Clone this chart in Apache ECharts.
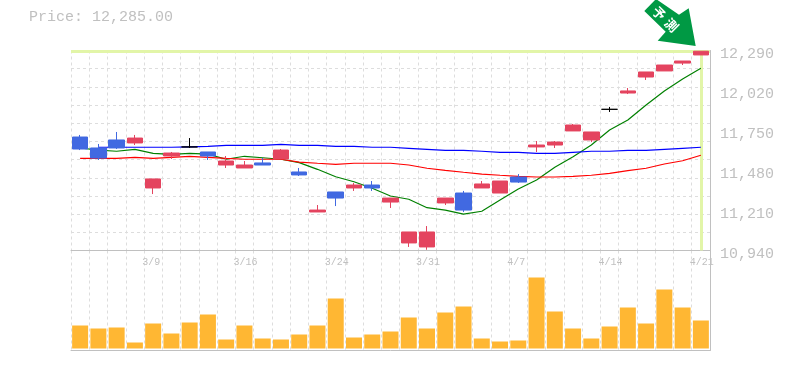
<!DOCTYPE html>
<html>
<head>
<meta charset="utf-8">
<style>html,body{margin:0;padding:0;background:#fff}#c{width:785px;height:370px}</style>
<script src="https://cdn.jsdelivr.net/npm/echarts@6/dist/echarts.min.js"></script>
</head>
<body>
<div id="c"></div>
<script>
const categories = ['3/3','3/4','3/5','3/6','3/9','3/10','3/11','3/12','3/13','3/16','3/17','3/18','3/19','3/23','3/24','3/25','3/26','3/27','3/30','3/31','4/1','4/2','4/3','4/6','4/7','4/8','4/9','4/10','4/13','4/14','4/15','4/16','4/17','4/20','4/21'];
const opens  = [11706,11632,11686,11666,11362,11578,11639,11605,11517,11497,11531,11558,11470,11200,11335,11362,11382,11267,10991,10964,11261,11328,11362,11328,11436,11639,11652,11747,11686,11893,12003,12111,12152,12205,12260];
const closes = [11625,11564,11632,11699,11423,11598,11639,11578,11544,11517,11517,11618,11450,11213,11294,11382,11362,11294,11065,11065,11294,11213,11389,11409,11402,11652,11672,11787,11740,11893,12017,12145,12192,12219,12285];
const lows   = [11618,11551,11625,11652,11321,11558,11632,11551,11497,11497,11517,11558,11443,11200,11240,11342,11342,11227,10964,10945,11247,11200,11362,11328,11396,11605,11632,11747,11672,11875,11996,12091,12152,12192,12260];
const highs  = [11720,11659,11740,11720,11423,11605,11699,11605,11578,11544,11564,11625,11497,11247,11335,11396,11409,11294,11065,11105,11294,11342,11409,11409,11456,11679,11679,11794,11740,11909,12037,12145,12192,12219,12285];
const maShort = [11632,11618,11610,11623,11596,11589,11596,11591,11556,11576,11566,11556,11533,11488,11438,11404,11360,11308,11286,11229,11213,11186,11205,11281,11355,11416,11502,11573,11652,11753,11821,11922,12017,12098,12170];
const maMid = [null,11637,11637,11637,11637,11637,11640,11643,11650,11650,11650,11657,11650,11650,11643,11643,11637,11637,11630,11623,11616,11616,11610,11603,11603,11596,11596,11603,11610,11610,11616,11616,11623,11630,11637];
const maLong = [11562,11562,11562,11569,11562,11569,11576,11569,11562,11556,11556,11556,11537,11529,11522,11529,11529,11529,11517,11495,11481,11468,11456,11448,11441,11436,11436,11441,11448,11461,11479,11495,11524,11546,11583];
const volumes = [23,20,21,6,25,15,26,34,9,23,10,9,14,23,50,11,14,17,31,20,36,42,10,7,8,71,37,20,10,22,41,25,59,41,28];
const priceTicks = [10940,11210,11480,11750,12020,12290];
const labelledDates = ['3/9','3/16','3/24','3/31','4/7','4/14','4/21'];
const priceTitle = 'Price: 12,285.00';
const badgeChars = ['予','測'];

const MONO = '"Liberation Mono","DejaVu Sans Mono",monospace';
const GREY = '#c0c0c0', DASH = '#dddddd', BAND = '#e2f5a8';
const RED = '#e4445f', BLUE = '#4169e1';
const lastIdx = categories.length - 1;
const candleData = categories.map((_, i) => [opens[i], closes[i], lows[i], highs[i]]);
const line = (name, data, color, extra) => Object.assign({
  name, type: 'line', data, xAxisIndex: 0, yAxisIndex: 0, symbol: 'none', silent: true,
  z: 2, animation: false, lineStyle: {color, width: 1.2}, connectNulls: false
}, extra || {});
const vSplit = {show: true, interval: 0, lineStyle: {color: DASH, type: [3, 3], width: 1}};
const badgeGlyph = (ch, x, y) => ({type: 'text', z: 21, silent: true, x, y, rotation: -Math.PI / 4,
  style: {text: ch, fill: '#fff', align: 'center', verticalAlign: 'middle', font: 'bold 13px "Noto Sans CJK JP"'}});

const chart = echarts.init(document.getElementById('c'), null, {renderer: 'canvas'});
chart.setOption({
  animation: false,
  backgroundColor: '#fff',
  title: {text: priceTitle, left: 24, top: 5, textStyle: {fontFamily: MONO, fontSize: 15, fontWeight: 'normal', color: GREY}},
  grid: [
    {left: 71, right: 75, top: 50.5, height: 200},
    {left: 71, right: 75, top: 250.5, height: 100}
  ],
  xAxis: [
    {type: 'category', gridIndex: 0, data: categories, boundaryGap: true,
     axisLine: {onZero: false, lineStyle: {color: GREY, width: 1}}, axisTick: {show: false},
     splitLine: vSplit,
     axisLabel: {
       interval: (i, v) => labelledDates.includes(v), margin: 7, hideOverlap: false,
       formatter: v => '{a|' + v + '}',
       rich: {a: {width: 22, align: 'left', fontFamily: MONO, fontSize: 10, color: GREY}}
     }},
    {type: 'category', gridIndex: 1, data: categories, boundaryGap: true,
     axisLine: {onZero: false, lineStyle: {color: GREY, width: 1}}, axisTick: {show: false},
     splitLine: vSplit, axisLabel: {show: false}}
  ],
  yAxis: [
    {type: 'value', gridIndex: 0, position: 'right', min: priceTicks[0], max: priceTicks[priceTicks.length - 1],
     axisLine: {show: true, lineStyle: {color: GREY, width: 1}}, axisTick: {show: false},
     splitLine: {show: false},
     axisLabel: {customValues: priceTicks, margin: 10, padding: [0, 0, 0, 0], verticalAlign: 'top', lineHeight: 8, fontFamily: MONO, fontSize: 15, color: GREY,
       formatter: v => v.toLocaleString('en-US')}},
    {type: 'value', gridIndex: 0, position: 'left', min: 0, max: 11, interval: 1,
     axisLine: {show: false}, axisTick: {show: false}, axisLabel: {show: false},
     splitLine: {show: true, lineStyle: {color: DASH, type: [3, 3], width: 1}}},
    {type: 'value', gridIndex: 1, position: 'right', min: -2, max: 98,
     axisLine: {show: true, lineStyle: {color: GREY, width: 1}}, axisTick: {show: false},
     axisLabel: {show: false}, splitLine: {show: false}}
  ],
  series: [
    line('MA short', maShort, '#008000', {
      markLine: {silent: true, symbol: 'none', z: 1, animation: false,
        label: {show: false}, lineStyle: {color: BAND, width: 3, type: 'solid'},
        data: [{yAxis: closes[lastIdx]}, {xAxis: categories[lastIdx]}]}
    }),
    line('MA mid', maMid, '#0000ff'),
    line('MA long', maLong, '#ff0000'),
    {name: 'Price', type: 'candlestick', xAxisIndex: 0, yAxisIndex: 0, data: candleData, barWidth: 16, z: 3, silent: true,
     itemStyle: {color: RED, color0: BLUE, borderColor: RED, borderColor0: BLUE, borderColorDoji: '#000', borderWidth: 1}},
    {name: 'Volume', type: 'bar', xAxisIndex: 1, yAxisIndex: 2, data: volumes, barWidth: 16, silent: true,
     itemStyle: {color: '#ffb733'}}
  ],
  graphic: [
    {type: 'polygon', z: 20, silent: true,
     shape: {points: [[644.3,11],[656,-1],[679,14.7],[688.7,8.3],[695.7,46],[657.7,40.7],[665.7,31.7]]},
     style: {fill: '#009944'}},
    badgeGlyph(badgeChars[0], 659, 13),
    badgeGlyph(badgeChars[1], 671.5, 25)
  ]
});
</script>
</body>
</html>
